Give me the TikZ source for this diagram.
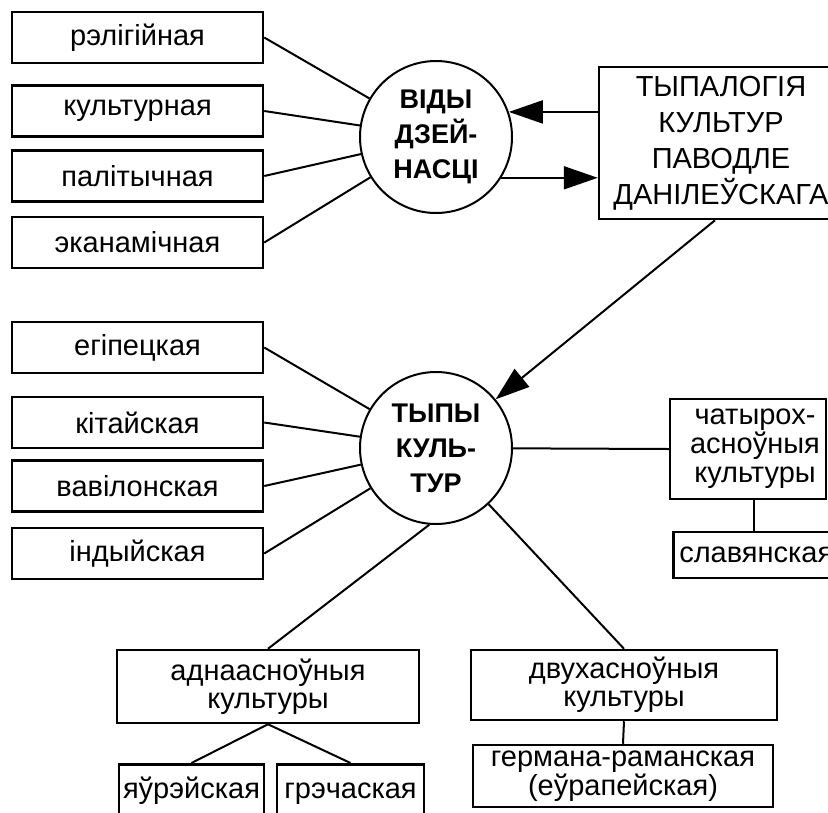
\documentclass[tikz,border=0pt]{standalone}
\usepackage{fontspec}
\setmainfont{Liberation Sans}
\usetikzlibrary{arrows.meta}
\begin{document}
\begin{tikzpicture}[x=1pt,y=-1pt,
  box/.style={draw,line width=2.5pt,inner sep=0pt,font=\fontsize{29}{29}\selectfont},
  kind/.style={box,minimum width=251pt,minimum height=51pt},
  leaf/.style={box,anchor=north,inner ysep=4pt,text height=30pt,text depth=40pt},
  hub/.style={draw,circle,line width=2pt,minimum size=152pt,inner sep=0pt,align=center,
    font=\fontsize{27}{35}\bfseries\selectfont},
  link/.style={line width=2pt},
  arr/.style={link,-{Triangle[length=34pt,width=23pt]}},
]
\useasboundingbox (0,0) rectangle (828,812);

% kinds of activity
\node[kind] (rel) at (137.5,37.5) {рэлігійная};
\node[kind] (kul) at (137.5,111) {культурная};
\node[kind] (pal) at (137.5,176) {палітычная};
\node[kind] (eka) at (137.5,242.5) {эканамічная};
\node[hub] (vd) at (436,137) {ВІДЫ\\ДЗЕЙ-\\НАСЦІ};

% typology
\node[box,minimum width=244pt,minimum height=152pt,align=center,
  font=\fontsize{29}{36}\selectfont] (typ) at (721,143)
  {ТЫПАЛОГІЯ\\КУЛЬТУР\\ПАВОДЛЕ\\ДАНІЛЕЎСКАГА};

% types of cultures
\node[kind] (egi) at (137.5,347.5) {егіпецкая};
\node[kind] (kit) at (137.5,422.5) {кітайская};
\node[kind] (vav) at (137.5,486) {вавілонская};
\node[kind] (ind) at (137.5,553.5) {індыйская};
\node[hub] (tc) at (436,448) {ТЫПЫ\\КУЛЬ-\\ТУР};

\node[box,minimum width=156pt,minimum height=100pt,
  label={[align=center,xshift=7pt,font=\fontsize{29}{29}\selectfont]center:{чатырох-\\асноўныя\\культуры}}]
  (four) at (748,449) {};
\node[box,anchor=west,inner xsep=6pt,minimum height=46pt] (slav) at (672,555) {славянская};

\node[box,minimum width=302pt,minimum height=73pt,align=center,
  font=\fontsize{29}{28}\selectfont] (one) at (268,686.5) {аднаасноўныя\\культуры};
\node[box,minimum width=306pt,minimum height=70pt,align=center,
  font=\fontsize{29}{28}\selectfont] (two) at (624,685) {двухасноўныя\\культуры};
\node[box,minimum width=300pt,minimum height=62pt,align=center,
  font=\fontsize{29}{27}\selectfont] (germ) at (623,776) {германа-раманская\\(еўрапейская)};

\node[leaf,minimum width=145pt] (yaur) at (191.5,763) {яўрэйская};
\node[leaf,minimum width=147pt] (grek) at (350.5,763) {грэчаская};

% connectors
\foreach \n in {rel,kul,pal,eka} \draw[link] (\n.east) -- (vd);
\draw[arr] (typ.west |- vd.19) -- (vd.19);
\draw[arr] (vd.-32) -- (typ.west |- vd.-32);
\draw[arr] ([xshift=-6pt]typ.south) -- (tc);

\foreach \n in {egi,kit,vav,ind} \draw[link] (\n.east) -- (tc);
\draw[link] (tc) -- (four.west);
\draw[link] ([xshift=6pt]four.south) -- ([xshift=6pt]four.south |- slav.north);
\draw[link] (tc.265) -- (one.north);
\draw[link] (tc) -- (two.north);
\draw[link] (one.south) -- (yaur.north);
\draw[link] (one.south) -- (grek.north);
\draw[link] (two.south) -- (germ.north);
\end{tikzpicture}
\end{document}
